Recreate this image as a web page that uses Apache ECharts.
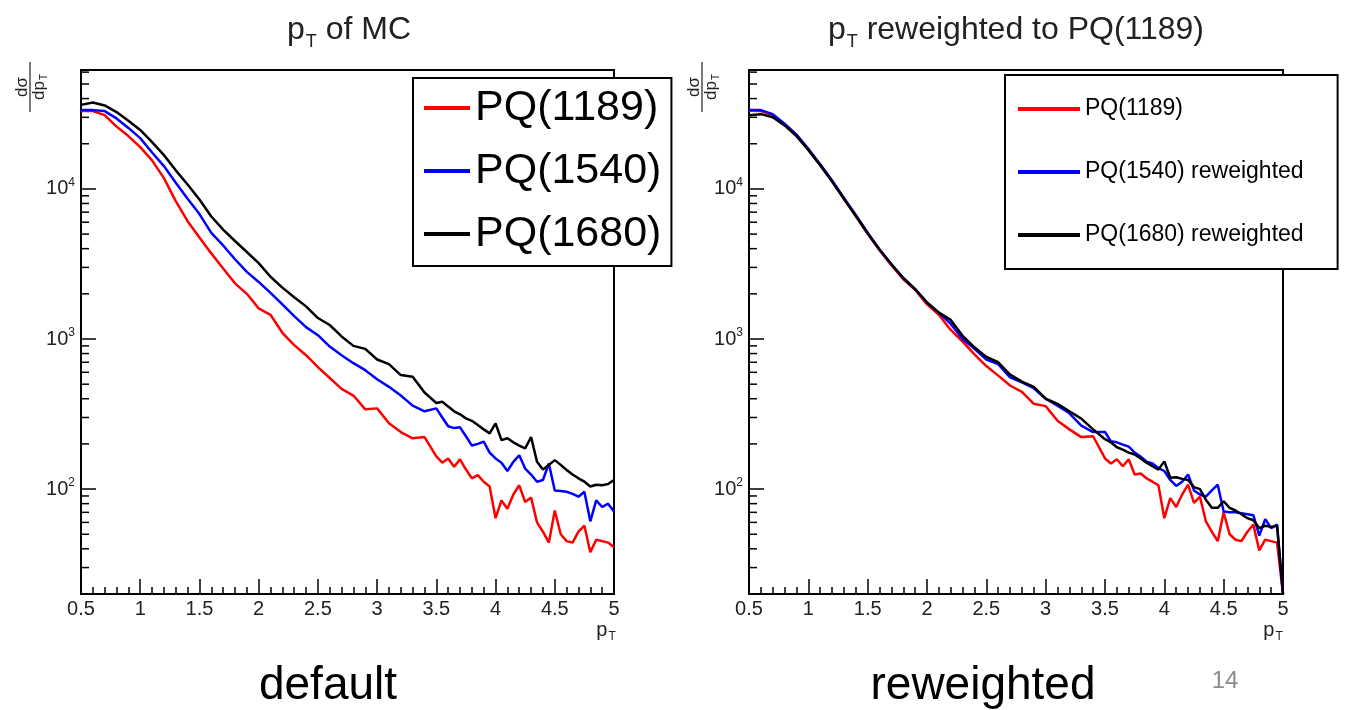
<!DOCTYPE html>
<html>
<head>
<meta charset="utf-8">
<script src="https://cdn.jsdelivr.net/npm/echarts@6/dist/echarts.min.js"></script>
<style>
  html, body { margin: 0; padding: 0; background: #fff; }
  #chart { width: 1345px; height: 710px; }
</style>
</head>
<body>
<div id="chart"></div>
<script>
// pT bin positions (coarser where curves are smooth)
const pT = [0.5, 0.6, 0.7, 0.8, 0.9, 1.0, 1.1, 1.2, 1.3, 1.4, 1.5, 1.6, 1.7, 1.8, 1.9, 2.0,
  2.1, 2.2, 2.3, 2.4, 2.5, 2.6, 2.7, 2.8, 2.9, 3.0, 3.1, 3.2, 3.3, 3.4, 3.5,
  3.55, 3.6, 3.65, 3.7, 3.75, 3.8, 3.85, 3.9, 3.95, 4.0, 4.05, 4.1, 4.15, 4.2, 4.25,
  4.3, 4.35, 4.4, 4.45, 4.5, 4.55, 4.6, 4.65, 4.7, 4.75, 4.8, 4.85, 4.9, 4.95, 5.0]

// left panel: default MC
const pq1189 = [33000, 33000, 31000, 26000, 22500, 19000, 15500, 11800, 8300, 6100, 4750, 3720, 2950, 2350, 2000, 1600,
  1450, 1100, 910, 780, 650, 550, 465, 420, 340, 345, 275, 240, 218, 222, 165,
  150, 160, 141, 158, 135, 118, 124, 112, 104, 64, 84, 74, 92, 106, 82,
  88, 60, 52, 44, 72, 50, 45, 44, 52, 57, 38, 46, 45, 44, 41]
const pq1540 = [33500, 33500, 33000, 29500, 25500, 21800, 17500, 14200, 11000, 8600, 6800, 5100, 4200, 3400, 2800, 2400,
  2030, 1700, 1420, 1200, 1060, 890, 780, 690, 620, 540, 480, 420, 360, 330, 345,
  300, 262, 255, 258, 225, 195, 200, 207, 175, 160, 150, 132, 152, 168, 137,
  125, 112, 115, 148, 98, 97, 96, 93, 89, 96, 61, 84, 76, 80, 71]
const pq1680 = [36300, 37700, 36000, 32500, 28500, 24700, 20500, 16800, 13300, 10700, 8500, 6550, 5350, 4500, 3800, 3200,
  2600, 2200, 1900, 1650, 1380, 1240, 1040, 900, 860, 730, 680, 575, 560, 440, 375,
  382, 355, 330, 315, 296, 285, 267, 250, 235, 274, 212, 218, 205, 195, 187,
  222, 152, 135, 145, 156, 145, 134, 125, 118, 112, 104, 107, 106, 108, 115]

// right panel: reweighted to PQ(1189)
const pq1189R = [33200, 33000, 31000, 27000, 22900, 18200, 14400, 11300, 8600, 6600, 5050, 3900, 3100, 2500, 2130, 1700,
  1450, 1150, 960, 790, 660, 570, 490, 445, 370, 357, 285, 250, 222, 225, 160,
  148, 158, 142, 158, 125, 127, 118, 112, 106, 64, 87, 76, 92, 107, 81,
  89, 61, 52, 45, 70, 50, 46, 45, 52, 58, 39, 46, 45, 44, 20]
const pq1540R = [33500, 33500, 31500, 27200, 23000, 18500, 14600, 11400, 8700, 6700, 5100, 3950, 3150, 2550, 2150, 1750,
  1500, 1260, 1000, 860, 730, 680, 555, 515, 470, 400, 360, 320, 265, 240, 240,
  208, 205, 198, 192, 175, 165, 152, 148, 138, 132, 115, 105, 112, 125, 98,
  92, 89, 98, 107, 71, 70, 70, 69, 68, 67, 49, 63, 55, 58, 20]
const pq1680R = [31000, 31500, 30000, 26500, 22500, 18200, 14400, 11200, 8600, 6600, 5050, 3950, 3150, 2550, 2150, 1750,
  1500, 1340, 1050, 880, 760, 700, 580, 520, 480, 400, 370, 330, 295, 250, 215,
  205, 190, 183, 175, 170, 160, 150, 142, 135, 153, 119, 120, 117, 115, 103,
  100, 85, 75, 75, 83, 75, 72, 68, 64, 62, 55, 57, 56, 57, 20]

// log minor tick values on the y axis
const yMinorTicks = [30, 40, 50, 60, 70, 80, 90, 200, 300, 400, 500, 600, 700, 800, 900,
  2000, 3000, 4000, 5000, 6000, 7000, 8000, 9000, 20000, 30000, 40000, 50000, 60000]

const leftNames = ['PQ(1189)', 'PQ(1540)', 'PQ(1680)']
const rightNames = ['PQ(1189)', 'PQ(1540) reweighted', 'PQ(1680) reweighted']
const colors = ['#ff0000', '#0000ff', '#000000']

const FONT = 'Liberation Sans'
const chart = echarts.init(document.getElementById('chart'))

const xAxisFor = (i) => ({
  type: 'value', gridIndex: i, min: 0.5, max: 5, interval: 0.5,
  axisLine: { show: true, onZero: false, lineStyle: { color: '#000', width: 2 } },
  axisTick: { inside: true, length: 15, lineStyle: { color: '#000', width: 1.5 } },
  minorTick: { show: true, splitNumber: 5, length: 7, lineStyle: { color: '#000', width: 1.5 } },
  splitLine: { show: false },
  axisLabel: { color: '#222', fontSize: 20, fontFamily: FONT, margin: 5 }
})

const yAxisFor = (i) => ({
  type: 'log', logBase: 10, gridIndex: i, min: 20, max: 62000,
  axisLine: { show: true, lineStyle: { color: '#000', width: 2 } },
  axisTick: { inside: true, length: 15, lineStyle: { color: '#000', width: 1.5 } },
  splitLine: { show: false },
  axisLabel: {
    color: '#222', fontSize: 20, fontFamily: FONT, margin: 6,
    formatter: (v) => {
      const e = Math.log10(v)
      const n = Math.round(e)
      return Math.abs(e - n) < 1e-6 ? '10{sup|' + n + '}' : ''
    },
    rich: { sup: { fontSize: 12, color: '#222', fontFamily: FONT, padding: [0, 0, 12, 0] } }
  }
})

const lineSeries = (name, values, color, i) => ({
  name, type: 'line', xAxisIndex: i, yAxisIndex: i,
  data: pT.map((x, k) => [x, values[k]]),
  symbol: 'none', animation: false,
  lineStyle: { color, width: 2.5 }, itemStyle: { color }
})

const minorTickSeries = (i) => ({
  type: 'custom', xAxisIndex: i, yAxisIndex: i, silent: true, animation: false, z: 5,
  data: yMinorTicks.map((v) => [0.5, v]),
  renderItem: (params, api) => {
    const p = api.coord([api.value(0), api.value(1)])
    return { type: 'line', shape: { x1: p[0], y1: p[1], x2: p[0] + 8, y2: p[1] }, style: { stroke: '#000', lineWidth: 1.5 } }
  }
})

const subText = (x, y, main, sub, size, subSize, color) => ({
  type: 'text', x, y, z: 10,
  style: {
    text: '{n|' + main + '}{s|' + sub + '}', align: 'center', verticalAlign: 'middle',
    rich: {
      n: { fontSize: size, fontFamily: FONT, fill: color },
      s: { fontSize: subSize, fontFamily: FONT, fill: color, padding: [Math.round(size * 0.7), 0, 0, 1] }
    }
  }
})

const fraction = (x, y) => ({
  type: 'group', x, y, rotation: Math.PI / 2, z: 10,
  children: [
    { type: 'text', x: 0, y: -8, style: { text: 'dσ', fontSize: 17, fontFamily: FONT, fill: '#222', align: 'center', verticalAlign: 'middle' } },
    { type: 'line', shape: { x1: -25, y1: 0, x2: 25, y2: 0 }, style: { stroke: '#222', lineWidth: 1.2 } },
    {
      type: 'text', x: 0, y: 9,
      style: {
        text: '{n|dp}{s|T}', align: 'center', verticalAlign: 'middle',
        rich: { n: { fontSize: 17, fontFamily: FONT, fill: '#222' }, s: { fontSize: 10, fontFamily: FONT, fill: '#222', padding: [11, 0, 0, 1] } }
      }
    }
  ]
})

const titleRich = {
  n: { fontSize: 32, fontFamily: FONT, fill: '#222' },
  s: { fontSize: 18, fontFamily: FONT, fill: '#222', padding: [24, 0, 0, 1] }
}

const option = {
  backgroundColor: '#fff',
  animation: false,
  grid: [
    { left: 81, top: 70, width: 533, height: 524, show: true, borderColor: '#000', borderWidth: 2 },
    { left: 749, top: 70, width: 534, height: 524, show: true, borderColor: '#000', borderWidth: 2 }
  ],
  xAxis: [xAxisFor(0), xAxisFor(1)],
  yAxis: [yAxisFor(0), yAxisFor(1)],
  legend: [
    {
      data: leftNames, orient: 'vertical', left: 413, top: 78, selectedMode: false,
      padding: [7, 10, 9, 11], itemGap: 17, itemWidth: 46, itemHeight: 4, icon: 'rect',
      backgroundColor: '#fff', borderColor: '#000', borderWidth: 2,
      textStyle: { fontSize: 43, lineHeight: 46, color: '#000', fontFamily: FONT }
    },
    {
      data: rightNames, orient: 'vertical', left: 1005, top: 75, selectedMode: false,
      padding: [21, 34, 21, 13], itemGap: 37, itemWidth: 62, itemHeight: 4, icon: 'rect',
      backgroundColor: '#fff', borderColor: '#000', borderWidth: 2,
      textStyle: { fontSize: 23, lineHeight: 26, color: '#000', fontFamily: FONT }
    }
  ],
  series: [
    lineSeries(leftNames[0], pq1189, colors[0], 0),
    lineSeries(leftNames[1], pq1540, colors[1], 0),
    lineSeries(leftNames[2], pq1680, colors[2], 0),
    lineSeries(rightNames[0], pq1189R, colors[0], 1),
    lineSeries(rightNames[1], pq1540R, colors[1], 1),
    lineSeries(rightNames[2], pq1680R, colors[2], 1),
    minorTickSeries(0),
    minorTickSeries(1)
  ],
  graphic: [
    // panel titles
    {
      type: 'text', x: 349, y: 30, z: 10,
      style: { text: '{n|p}{s|T}{n| of MC}', align: 'center', verticalAlign: 'middle', rich: titleRich }
    },
    {
      type: 'text', x: 1016, y: 30, z: 10,
      style: { text: '{n|p}{s|T}{n| reweighted to PQ(1189)}', align: 'center', verticalAlign: 'middle', rich: titleRich }
    },
    fraction(30, 87),
    fraction(702, 87),
    subText(606, 630, 'p', 'T', 20, 12, '#222'),
    subText(1273, 630, 'p', 'T', 20, 12, '#222'),
    { type: 'text', x: 328, y: 686, style: { text: 'default', fontSize: 46, fontFamily: FONT, fill: '#000', align: 'center', verticalAlign: 'middle' } },
    { type: 'text', x: 983, y: 686, style: { text: 'reweighted', fontSize: 46, fontFamily: FONT, fill: '#000', align: 'center', verticalAlign: 'middle' } },
    { type: 'text', x: 1225, y: 681, style: { text: '14', fontSize: 24, fontFamily: FONT, fill: '#8c8c8c', align: 'center', verticalAlign: 'middle' } }
  ]
}

chart.setOption(option)
</script>
</body>
</html>
